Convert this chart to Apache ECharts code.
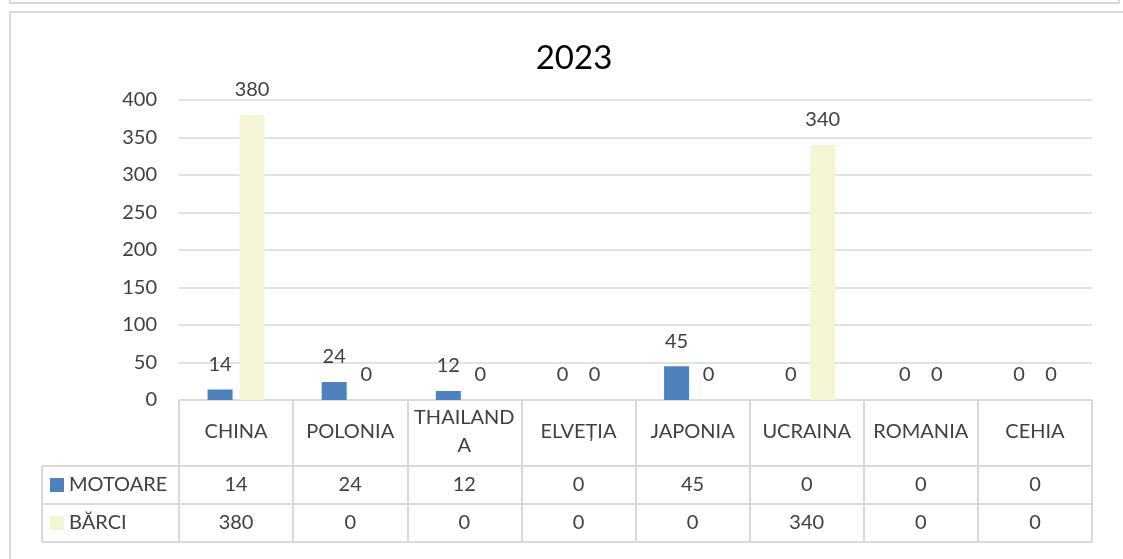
<!DOCTYPE html>
<html>
<head>
<meta charset="utf-8">
<script src="https://cdn.jsdelivr.net/npm/echarts@6/dist/echarts.min.js"></script>
<style>
  html, body { margin: 0; padding: 0; background: #ffffff; }
  #chart { width: 1123px; height: 559px; }
</style>
</head>
<body>
<div id="chart"></div>
<script>
// ---- data ----
const title = '2023';
const categories = ['CHINA', 'POLONIA', 'THAILANDA', 'ELVEȚIA', 'JAPONIA', 'UCRAINA', 'ROMANIA', 'CEHIA'];
const seriesNames = ['MOTOARE', 'BĂRCI'];
const motoare = [14, 24, 12, 0, 45, 0, 0, 0];
const barci = [380, 0, 0, 0, 0, 340, 0, 0];
const yMin = 0, yMax = 400, yStep = 50;

// ---- layout ----
const W = 1123, H = 559;
const gridL = 179, gridR = 1092, gridT = 100, gridB = 400;
const row1B = 466, row2B = 504, row3B = 542;
const legendL = 42;
const lineCol = '#D9D9D9';
const textCol = '#404040';
const FONT = 'Lato';
const FS = 20;

const chart = echarts.init(document.getElementById('chart'), null, { renderer: 'canvas' });

function valueAxis(values, margin) {
  return {
    type: 'category',
    data: categories,
    gridIndex: 0,
    position: 'bottom',
    axisLine: { show: false },
    axisTick: { show: false },
    splitLine: { show: false },
    axisLabel: {
      interval: 0,
      margin: margin,
      verticalAlign: 'middle',
      fontFamily: FONT,
      fontSize: FS,
      color: textCol,
      formatter: (v, i) => String(values[i])
    }
  };
}

const option = {
  backgroundColor: '#ffffff',
  animation: false,
  title: {
    text: title,
    left: 569,
    top: 37,
    textAlign: 'center',
    textStyle: { fontFamily: FONT, fontSize: 33, fontWeight: 'normal', color: '#000000' }
  },
  legend: {
    data: seriesNames,
    orient: 'vertical',
    left: 50,
    top: 475,
    padding: 0,
    itemWidth: 14,
    itemHeight: 14,
    itemGap: 18,
    icon: 'rect',
    selectedMode: false,
    textStyle: { fontFamily: FONT, fontSize: FS, lineHeight: 20, color: textCol }
  },
  grid: { left: gridL, right: W - gridR, top: gridT, bottom: H - gridB, containLabel: false },
  xAxis: [
    {
      type: 'category',
      data: categories,
      position: 'bottom',
      axisLine: { show: true, lineStyle: { color: lineCol, width: 1.5 } },
      axisTick: { show: true, interval: 0, length: row3B - gridB, lineStyle: { color: lineCol, width: 2 } },
      axisLabel: {
        interval: 0,
        margin: 32,
        verticalAlign: 'middle',
        lineHeight: 28,
        fontFamily: FONT,
        fontSize: FS,
        color: textCol,
        width: 104,
        overflow: 'breakAll'
      }
    },
    valueAxis(motoare, row1B + (row2B - row1B) / 2 - gridB),
    valueAxis(barci, row2B + (row3B - row2B) / 2 - gridB)
  ],
  yAxis: {
    type: 'value',
    min: yMin,
    max: yMax,
    interval: yStep,
    axisLine: { show: false },
    axisTick: { show: false },
    splitLine: { show: true, lineStyle: { color: lineCol, width: 1.5 } },
    axisLabel: { margin: 22, fontFamily: FONT, fontSize: FS, color: textCol }
  },
  series: [
    {
      name: seriesNames[0],
      type: 'bar',
      xAxisIndex: 0,
      data: motoare,
      barWidth: 25,
      barGap: '28%',
      itemStyle: { color: '#4F81BD' },
      label: { show: true, position: 'top', distance: 15, fontFamily: FONT, fontSize: FS, color: textCol }
    },
    {
      name: seriesNames[1],
      type: 'bar',
      xAxisIndex: 0,
      data: barci,
      barWidth: 25,
      barGap: '28%',
      itemStyle: { color: '#F5F5D5' },
      label: { show: true, position: 'top', distance: 15, fontFamily: FONT, fontSize: FS, color: textCol }
    }
  ],
  graphic: [
    // outer frames
    { type: 'polyline', shape: { points: [[10, 0], [10, 3], [1119, 3], [1119, 0]] }, style: { stroke: lineCol, lineWidth: 2, fill: null } },
    { type: 'polyline', shape: { points: [[W, 12], [10, 12], [10, H]] }, style: { stroke: lineCol, lineWidth: 2, fill: null } },
    // table horizontal lines
    { type: 'line', shape: { x1: legendL, y1: row1B, x2: gridR, y2: row1B }, style: { stroke: lineCol, lineWidth: 2 } },
    { type: 'line', shape: { x1: legendL, y1: row2B, x2: gridR, y2: row2B }, style: { stroke: lineCol, lineWidth: 2 } },
    { type: 'line', shape: { x1: legendL, y1: row3B, x2: gridR, y2: row3B }, style: { stroke: lineCol, lineWidth: 2 } },
    // legend column left edge
    { type: 'line', shape: { x1: legendL, y1: row1B, x2: legendL, y2: row3B }, style: { stroke: lineCol, lineWidth: 2 } }
  ]
};

chart.setOption(option);
</script>
</body>
</html>
